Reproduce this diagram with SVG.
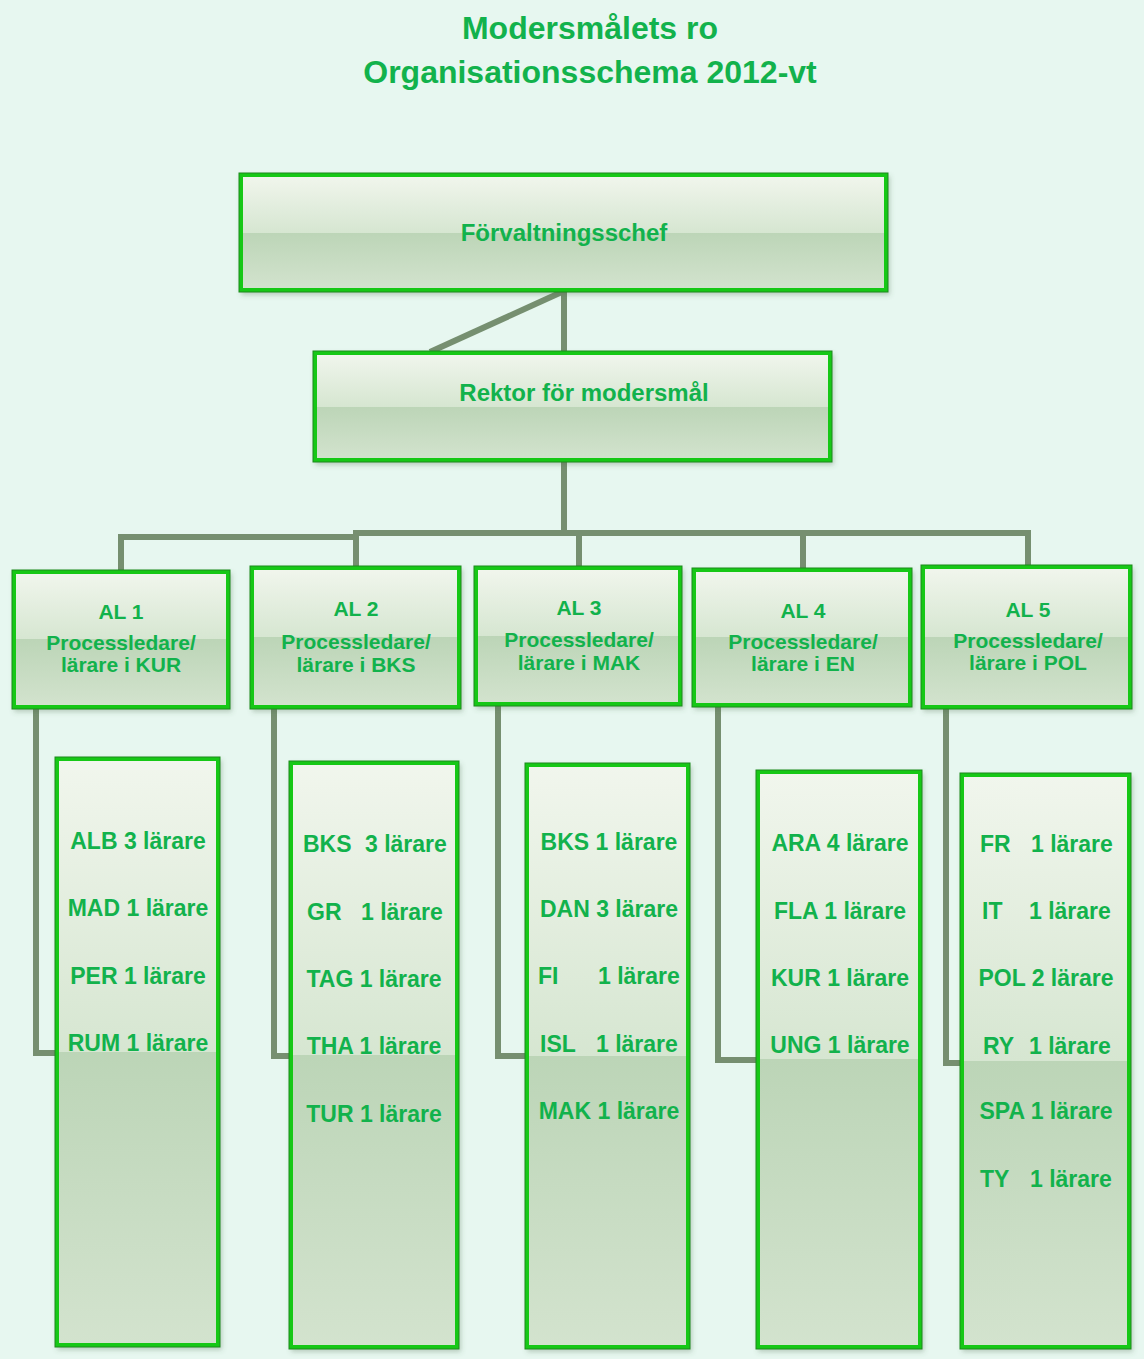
<svg xmlns="http://www.w3.org/2000/svg" width="1144" height="1359" viewBox="0 0 1144 1359">
<defs>
<linearGradient id="gloss" x1="0" y1="0" x2="0" y2="1">
<stop offset="0" stop-color="#f1f6ed"/>
<stop offset="0.5" stop-color="#d6e6d1"/>
<stop offset="0.5" stop-color="#bcd5b7"/>
<stop offset="1" stop-color="#d3e3ce"/>
</linearGradient>
<filter id="sh" x="-10%" y="-10%" width="120%" height="120%">
<feDropShadow dx="2" dy="3" stdDeviation="2.5" flood-color="#4a6a4a" flood-opacity="0.3"/>
</filter>
</defs>
<style>
.box{fill:url(#gloss);stroke:#14c814;stroke-width:4;filter:url(#sh)}
.edge{fill:none;stroke:#1d8a1d;stroke-width:1}
.t{font-family:"Liberation Sans",Arial,sans-serif;font-weight:bold;fill:#12b24c;text-anchor:middle}
.c{font-family:"Liberation Sans",Arial,sans-serif;font-weight:bold;fill:#12b24c;font-size:23px}
.cm{text-anchor:middle}
.al{font-size:21px}
.conn{fill:none;stroke:#768f70;stroke-width:6;stroke-linejoin:miter}
</style>
<rect width="1144" height="1359" fill="#e7f7f0"/>
<g id="title">
<text class="t" x="590" y="39" font-size="32">Modersmålets ro</text>
<text class="t" x="590" y="83" font-size="32">Organisationsschema 2012-vt</text>
</g>
<g id="connectors">
<line class="conn" x1="564" y1="291" x2="564" y2="352"/>
<line class="conn" x1="564" y1="291" x2="430" y2="352"/>
<line class="conn" x1="564" y1="461" x2="564" y2="534"/>
<polyline class="conn" points="121,572 121,537 356,537"/>
<polyline class="conn" points="356,568 356,533 1028,533 1028,567"/>
<line class="conn" x1="579" y1="533" x2="579" y2="567"/>
<line class="conn" x1="803" y1="533" x2="803" y2="570"/>
<polyline class="conn" points="36,708 36,1053 56,1053"/>
<polyline class="conn" points="274,708 274,1056 290,1056"/>
<polyline class="conn" points="498,705 498,1056 526,1056"/>
<polyline class="conn" points="718,706 718,1060 757,1060"/>
<polyline class="conn" points="946,708 946,1063 961,1063"/>
</g>
<g id="forvaltningsschef">
<rect class="box" x="241" y="175" width="645" height="115"/>
<rect class="edge" x="239" y="173" width="649" height="119"/>
<text class="t" x="564" y="241" font-size="24">Förvaltningsschef</text>
</g>
<g id="rektor">
<rect class="box" x="315" y="353" width="515" height="107"/>
<rect class="edge" x="313" y="351" width="519" height="111"/>
<text class="t" x="584" y="401" font-size="24">Rektor för modersmål</text>
</g>
<g id="al1">
<rect class="box" x="14" y="572" width="214" height="135"/>
<rect class="edge" x="12" y="570" width="218" height="139"/>
<text class="t al" x="121" y="619">AL 1</text>
<text class="t al" x="121" y="650">Processledare/</text>
<text class="t al" x="121" y="672">lärare i KUR</text>
</g>
<g id="al2">
<rect class="box" x="252" y="568" width="207" height="139"/>
<rect class="edge" x="250" y="566" width="211" height="143"/>
<text class="t al" x="356" y="616">AL 2</text>
<text class="t al" x="356" y="649">Processledare/</text>
<text class="t al" x="356" y="672">lärare i BKS</text>
</g>
<g id="al3">
<rect class="box" x="476" y="568" width="204" height="136"/>
<rect class="edge" x="474" y="566" width="208" height="140"/>
<text class="t al" x="579" y="615">AL 3</text>
<text class="t al" x="579" y="647">Processledare/</text>
<text class="t al" x="579" y="670">lärare i MAK</text>
</g>
<g id="al4">
<rect class="box" x="694" y="570" width="216" height="135"/>
<rect class="edge" x="692" y="568" width="220" height="139"/>
<text class="t al" x="803" y="618">AL 4</text>
<text class="t al" x="803" y="649">Processledare/</text>
<text class="t al" x="803" y="671">lärare i EN</text>
</g>
<g id="al5">
<rect class="box" x="923" y="567" width="207" height="140"/>
<rect class="edge" x="921" y="565" width="211" height="144"/>
<text class="t al" x="1028" y="617">AL 5</text>
<text class="t al" x="1028" y="648">Processledare/</text>
<text class="t al" x="1028" y="670">lärare i POL</text>
</g>
<g id="list1">
<rect class="box" x="57" y="759" width="161" height="586"/>
<rect class="edge" x="55" y="757" width="165" height="590"/>
<text class="c cm" x="138" y="849">ALB 3 lärare</text>
<text class="c cm" x="138" y="916">MAD 1 lärare</text>
<text class="c cm" x="138" y="984">PER 1 lärare</text>
<text class="c cm" x="138" y="1051">RUM 1 lärare</text>
</g>
<g id="list2">
<rect class="box" x="291" y="763" width="166" height="584"/>
<rect class="edge" x="289" y="761" width="170" height="588"/>
<text class="c" x="303" y="852">BKS <tspan x="365">3 lärare</tspan></text>
<text class="c" x="307" y="920">GR <tspan x="361">1 lärare</tspan></text>
<text class="c cm" x="374" y="987">TAG 1 lärare</text>
<text class="c cm" x="374" y="1054">THA 1 lärare</text>
<text class="c cm" x="374" y="1122">TUR 1 lärare</text>
</g>
<g id="list3">
<rect class="box" x="527" y="765" width="161" height="582"/>
<rect class="edge" x="525" y="763" width="165" height="586"/>
<text class="c cm" x="609" y="850">BKS 1 lärare</text>
<text class="c cm" x="609" y="917">DAN 3 lärare</text>
<text class="c" x="538" y="984">FI <tspan x="598">1 lärare</tspan></text>
<text class="c" x="540" y="1052">ISL <tspan x="596">1 lärare</tspan></text>
<text class="c cm" x="609" y="1119">MAK 1 lärare</text>
</g>
<g id="list4">
<rect class="box" x="758" y="772" width="162" height="575"/>
<rect class="edge" x="756" y="770" width="166" height="579"/>
<text class="c cm" x="840" y="851">ARA 4 lärare</text>
<text class="c cm" x="840" y="919">FLA 1 lärare</text>
<text class="c cm" x="840" y="986">KUR 1 lärare</text>
<text class="c cm" x="840" y="1053">UNG 1 lärare</text>
</g>
<g id="list5">
<rect class="box" x="962" y="775" width="167" height="572"/>
<rect class="edge" x="960" y="773" width="171" height="576"/>
<text class="c" x="980" y="852">FR <tspan x="1031">1 lärare</tspan></text>
<text class="c" x="982" y="919">IT <tspan x="1029">1 lärare</tspan></text>
<text class="c cm" x="1046" y="986">POL 2 lärare</text>
<text class="c" x="983" y="1054">RY <tspan x="1029">1 lärare</tspan></text>
<text class="c cm" x="1046" y="1119">SPA 1 lärare</text>
<text class="c" x="980" y="1187">TY <tspan x="1030">1 lärare</tspan></text>
</g>
</svg>
